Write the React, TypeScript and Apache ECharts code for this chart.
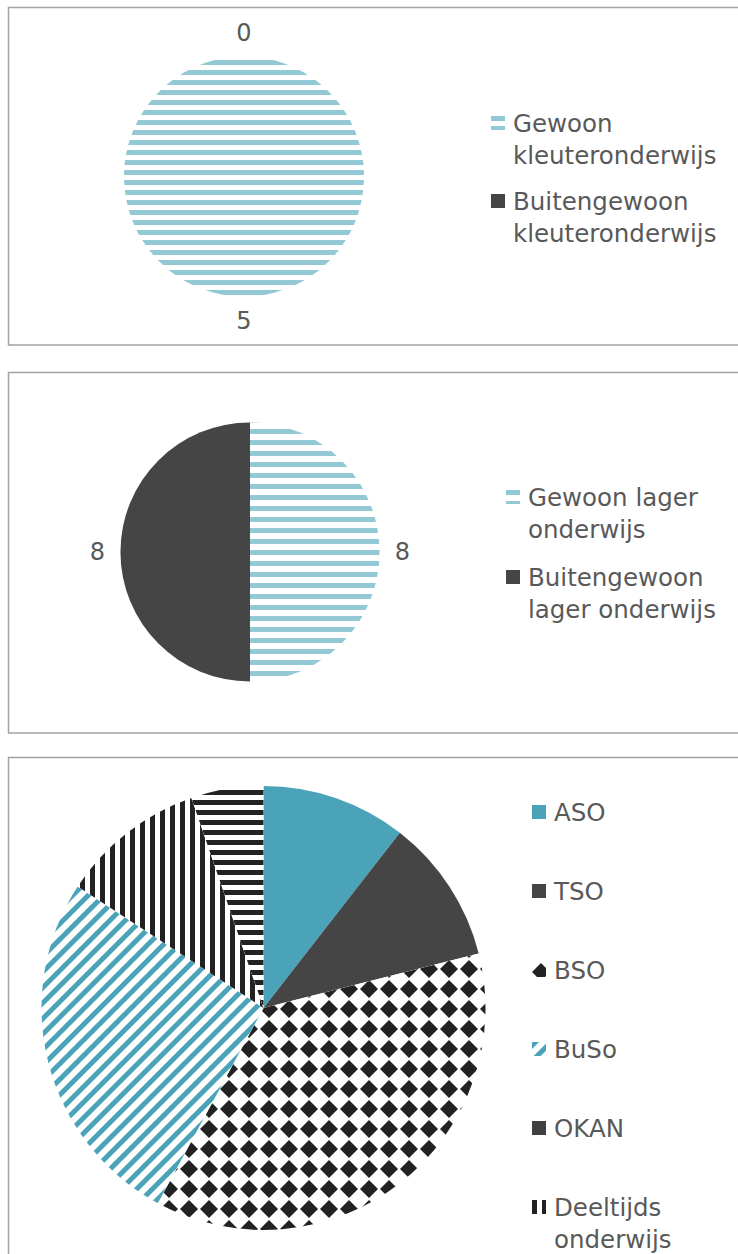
import React, { useEffect, useRef } from 'react';
import * as echarts from 'echarts';

// ---------- data ----------
const kleuterCategories = ['Gewoon kleuteronderwijs', 'Buitengewoon kleuteronderwijs'];
const kleuterValues = [5, 0];

const lagerCategories = ['Gewoon lager onderwijs', 'Buitengewoon lager onderwijs'];
const lagerValues = [8, 8];

const secundairCategories = ['ASO', 'TSO', 'BSO', 'BuSo', 'OKAN', 'Deeltijds onderwijs', 'Andere'];
const secundairValues = [2, 2, 7, 5, 0, 2, 1];

// legend text split into lines
const legendLines: Record<string, string[]> = {
  'Gewoon kleuteronderwijs': ['Gewoon', 'kleuteronderwijs'],
  'Buitengewoon kleuteronderwijs': ['Buitengewoon', 'kleuteronderwijs'],
  'Gewoon lager onderwijs': ['Gewoon lager', 'onderwijs'],
  'Buitengewoon lager onderwijs': ['Buitengewoon', 'lager onderwijs'],
  'Deeltijds onderwijs': ['Deeltijds', 'onderwijs'],
};

// ---------- styles ----------
const FONT = 'DejaVu Sans';
const TEXT = '#595959';
const FONT_SIZE = 24.5;
const LINE_H = 32;
const TEAL_LIGHT = '#93C8D5';
const TEAL = '#4AA3B9';
const DARK = '#454545';
const INK = '#222222';

const hStripes = (color: string, on: number, off: number) => ({
  color: '#ffffff',
  borderWidth: 0,
  decal: {
    symbol: 'rect',
    symbolSize: 1,
    symbolKeepAspect: false,
    color,
    dashArrayX: [1, 0],
    dashArrayY: [on, off],
    rotation: 0,
  },
});
const vStripes = (color: string, on: number, off: number, rotation = 0) => ({
  color: '#ffffff',
  borderWidth: 0,
  decal: {
    symbol: 'rect',
    symbolSize: 1,
    symbolKeepAspect: false,
    color,
    dashArrayX: [on, off],
    dashArrayY: [1, 0],
    rotation,
  },
});
const solid = (color: string) => ({ color, borderWidth: 0 });
const diamonds = {
  color: '#ffffff',
  borderWidth: 0,
  decal: {
    symbol: 'diamond',
    symbolSize: 1,
    symbolKeepAspect: false,
    color: INK,
    dashArrayX: [18, 2],
    dashArrayY: [18, 2],
    rotation: 0,
  },
};

const kleuterStyles = [hStripes(TEAL_LIGHT, 5, 5), solid(DARK)];
const lagerStyles = [hStripes(TEAL_LIGHT, 5, 6), solid(DARK)];
const secundairStyles = [
  solid(TEAL),
  solid(DARK),
  diamonds,
  vStripes(TEAL, 5, 6, Math.PI / 4),
  solid('#404040'),
  vStripes(INK, 5, 5),
  hStripes(INK, 5, 5),
];

// legend placement: [name, iconLeft, iconCenterY]
const legendPlacement: [string, number, number][] = [
  ['Gewoon kleuteronderwijs', 491, 123],
  ['Buitengewoon kleuteronderwijs', 491, 201],
  ['Gewoon lager onderwijs', 506, 497],
  ['Buitengewoon lager onderwijs', 506, 577],
  ['ASO', 532, 812],
  ['TSO', 532, 891],
  ['BSO', 532, 970],
  ['BuSo', 532, 1049],
  ['OKAN', 532, 1128],
  ['Deeltijds onderwijs', 532, 1207],
];

const labelStyle = {
  show: true,
  position: 'outside',
  formatter: '{c}',
  fontFamily: FONT,
  fontSize: 24,
  color: TEXT,
  distanceToLabelLine: 0,
};

export default function App() {
  const ref = useRef<HTMLDivElement>(null);

  useEffect(() => {
    if (!ref.current) return;
    const chart = echarts.init(ref.current, undefined, { renderer: 'svg' });

    const legends = legendPlacement.map(([name, left, cy]) => {
      const lines = legendLines[name];
      const offset = lines ? LINE_H * 1.5 : LINE_H / 2;
      return {
        data: [name],
        left,
        top: cy - offset,
        orient: 'vertical',
        padding: 0,
        itemWidth: 14,
        itemHeight: 14,
        icon: 'rect',
        selectedMode: false,
        formatter: (n: string) => (legendLines[n] ? '\n' + legendLines[n].join('\n') : n),
        textStyle: {
          fontFamily: FONT,
          fontSize: FONT_SIZE,
          color: TEXT,
          lineHeight: LINE_H,
          padding: [0, 0, 0, 3],
        },
      };
    });

    const frame = (y: number, h: number) => ({
      type: 'rect',
      silent: true,
      z: -10,
      shape: { x: 8.5, y, width: 800, height: h },
      style: { fill: 'none', stroke: '#A3A3A3', lineWidth: 1.5 },
    });

    chart.setOption({
      animation: false,
      backgroundColor: '#ffffff',
      graphic: [frame(7.5, 337.5), frame(372.5, 360.5), frame(757.5, 700)],
      legend: legends,
      series: [
        {
          type: 'pie',
          center: [244, 176.5],
          radius: 120,
          startAngle: 90,
          clockwise: true,
          avoidLabelOverlap: false,
          emphasis: { disabled: true },
          data: kleuterCategories.map((n, i) => ({ name: n, value: kleuterValues[i], itemStyle: kleuterStyles[i] })),
          label: labelStyle,
          labelLine: { show: false, length: 24, length2: 0 },
          labelLayout: { align: 'center' },
        },
        {
          type: 'pie',
          center: [250, 552],
          radius: 129.5,
          startAngle: 90,
          clockwise: true,
          avoidLabelOverlap: false,
          emphasis: { disabled: true },
          data: lagerCategories.map((n, i) => ({ name: n, value: lagerValues[i], itemStyle: lagerStyles[i] })),
          label: labelStyle,
          labelLine: { show: false, length: 23, length2: 0 },
          labelLayout: { align: 'center' },
        },
        {
          type: 'pie',
          center: [263.5, 1008],
          radius: 222,
          startAngle: 90,
          clockwise: true,
          emphasis: { disabled: true },
          data: secundairCategories.map((n, i) => ({ name: n, value: secundairValues[i], itemStyle: secundairStyles[i] })),
          label: { show: false },
          labelLine: { show: false },
        },
      ],
    });

    return () => chart.dispose();
  }, []);

  return (
    <div
      ref={ref}
      style={{ position: 'absolute', left: 0, top: 0, width: 738, height: 1254 }}
    />
  );
}
